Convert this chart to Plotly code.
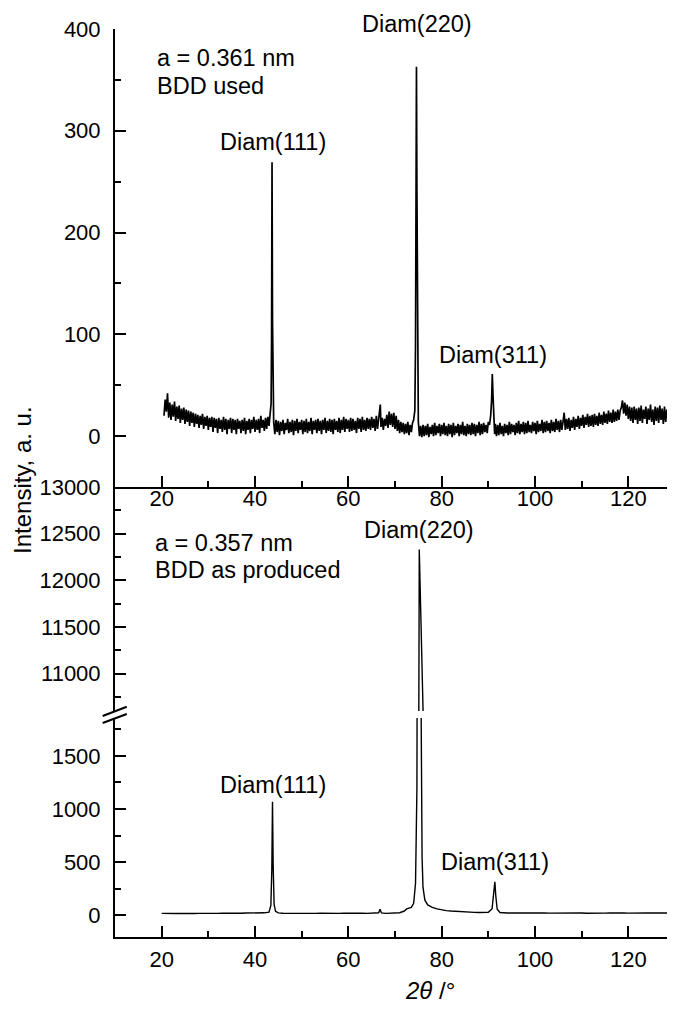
import plotly.graph_objects as go

# XRD pattern of the used BDD electrode (top panel)
USED_2THETA = [
    20.5, 20.75, 21.0, 21.25, 21.5, 21.75, 22.0, 22.25, 22.5, 22.75, 23.0, 23.25, 23.5, 23.75, 24.0, 24.25, 24.5, 24.75, 25.0, 25.25,
    25.5, 25.75, 26.0, 26.25, 26.5, 26.75, 27.0, 27.25, 27.5, 27.75, 28.0, 28.25, 28.5, 28.75, 29.0, 29.25, 29.5, 29.75, 30.0, 30.25,
    30.5, 30.75, 31.0, 31.25, 31.5, 31.75, 32.0, 32.25, 32.5, 32.75, 33.0, 33.25, 33.5, 33.75, 34.0, 34.25, 34.5, 34.75, 35.0, 35.25,
    35.5, 35.75, 36.0, 36.25, 36.5, 36.75, 37.0, 37.25, 37.5, 37.75, 38.0, 38.25, 38.5, 38.75, 39.0, 39.25, 39.5, 39.75, 40.0, 40.25,
    40.5, 40.75, 41.0, 41.25, 41.5, 41.75, 42.0, 42.25, 42.5, 42.75, 43.0, 43.25, 43.45, 43.55, 43.65, 43.75, 43.85, 44.0, 44.25, 44.5,
    44.75, 45.0, 45.25, 45.5, 45.75, 46.0, 46.25, 46.5, 46.75, 47.0, 47.25, 47.5, 47.75, 48.0, 48.25, 48.5, 48.75, 49.0, 49.25, 49.5,
    49.75, 50.0, 50.25, 50.5, 50.75, 51.0, 51.25, 51.5, 51.75, 52.0, 52.25, 52.5, 52.75, 53.0, 53.25, 53.5, 53.75, 54.0, 54.25, 54.5,
    54.75, 55.0, 55.25, 55.5, 55.75, 56.0, 56.25, 56.5, 56.75, 57.0, 57.25, 57.5, 57.75, 58.0, 58.25, 58.5, 58.75, 59.0, 59.25, 59.5,
    59.75, 60.0, 60.25, 60.5, 60.75, 61.0, 61.25, 61.5, 61.75, 62.0, 62.25, 62.5, 62.75, 63.0, 63.25, 63.5, 63.75, 64.0, 64.25, 64.5,
    64.75, 65.0, 65.25, 65.5, 65.75, 66.0, 66.25, 66.5, 66.75, 66.85, 67.0, 67.25, 67.5, 67.75, 68.0, 68.25, 68.5, 68.75, 69.0, 69.25,
    69.5, 69.75, 70.0, 70.25, 70.5, 70.75, 71.0, 71.25, 71.5, 71.75, 72.0, 72.25, 72.5, 72.75, 73.0, 73.25, 73.5, 73.75, 74.0,
    74.25, 74.4, 74.5, 74.6, 74.7, 74.8, 74.9, 75.0, 75.25, 75.5, 75.75,
    76.0, 76.25, 76.5, 76.75, 77.0, 77.25, 77.5, 77.75, 78.0, 78.25, 78.5, 78.75, 79.0, 79.25, 79.5, 79.75, 80.0, 80.25, 80.5, 80.75,
    81.0, 81.25, 81.5, 81.75, 82.0, 82.25, 82.5, 82.75, 83.0, 83.25, 83.5, 83.75, 84.0, 84.25, 84.5, 84.75, 85.0, 85.25, 85.5, 85.75,
    86.0, 86.25, 86.5, 86.75, 87.0, 87.25, 87.5, 87.75, 88.0, 88.25, 88.5, 88.75, 89.0, 89.25, 89.5, 89.75, 90.0, 90.25,
    90.5, 90.7, 90.85, 91.0, 91.15, 91.35, 91.5, 91.75,
    92.0, 92.25, 92.5, 92.75, 93.0, 93.25, 93.5, 93.75, 94.0, 94.25, 94.5, 94.75, 95.0, 95.25, 95.5, 95.75, 96.0, 96.25, 96.5, 96.75,
    97.0, 97.25, 97.5, 97.75, 98.0, 98.25, 98.5, 98.75, 99.0, 99.25, 99.5, 99.75, 100.0, 100.25, 100.5, 100.75, 101.0, 101.25, 101.5, 101.75,
    102.0, 102.25, 102.5, 102.75, 103.0, 103.25, 103.5, 103.75, 104.0, 104.25, 104.5, 104.75, 105.0, 105.25, 105.5, 105.75, 106.0, 106.25, 106.5, 106.75,
    107.0, 107.25, 107.5, 107.75, 108.0, 108.25, 108.5, 108.75, 109.0, 109.25, 109.5, 109.75, 110.0, 110.25, 110.5, 110.75, 111.0, 111.25, 111.5, 111.75,
    112.0, 112.25, 112.5, 112.75, 113.0, 113.25, 113.5, 113.75, 114.0, 114.25, 114.5, 114.75, 115.0, 115.25, 115.5, 115.75, 116.0, 116.25, 116.5, 116.75,
    117.0, 117.25, 117.5, 117.75, 118.0, 118.25, 118.5, 118.75, 119.0, 119.25, 119.5, 119.75, 120.0, 120.25, 120.5, 120.75, 121.0, 121.25, 121.5, 121.75,
    122.0, 122.25, 122.5, 122.75, 123.0, 123.25, 123.5, 123.75, 124.0, 124.25, 124.5, 124.75, 125.0, 125.25, 125.5, 125.75, 126.0, 126.25, 126.5, 126.75,
    127.0, 127.25, 127.5, 127.75, 128.0, 128.25, 128.5, 128.75, 129.0, 129.25, 129.5, 129.75, 130.0,
]
USED_INTENSITY = [
    20, 36, 24, 42, 18, 33, 16, 31, 19, 34, 15, 29, 17, 30, 13, 27, 16, 28, 12, 26,
    14, 25, 10, 24, 13, 23, 9, 22, 12, 21, 8, 20, 11, 22, 7, 19, 10, 20, 6, 18,
    9, 19, 4, 18, 8, 17, 3, 18, 7, 16, 4, 19, 6, 17, 2, 16, 7, 18, 3, 17,
    6, 16, 2, 17, 7, 15, 3, 16, 5, 18, 2, 15, 6, 17, 3, 16, 7, 19, 4, 16,
    6, 17, 3, 20, 8, 16, 5, 18, 7, 19, 10, 22, 32, 95, 269, 115, 30, 14, 2, 16,
    4, 15, 1, 14, 5, 16, 2, 13, 6, 17, 3, 14, 4, 16, 1, 15, 5, 17, 3, 14,
    6, 16, 2, 15, 4, 17, 3, 14, 5, 18, 2, 15, 6, 16, 3, 17, 5, 15, 2, 16,
    6, 18, 3, 15, 5, 17, 4, 16, 2, 17, 6, 15, 4, 18, 3, 16, 6, 19, 4, 17,
    7, 16, 4, 18, 5, 17, 6, 15, 3, 18, 7, 17, 4, 19, 6, 16, 5, 18, 7, 17,
    6, 19, 8, 17, 5, 20, 7, 16, 24, 31, 9, 18, 6, 17, 10, 21, 8, 24, 11, 22,
    9, 23, 7, 20, 5, 16, 3, 14, 4, 13, 2, 12, 3, 14, 1, 11, 4, 13, 16,
    25, 90, 230, 363, 240, 110, 35, 14, 0, 10, -1,
    11, 0, 10, 1, 12, -1, 9, 2, 11, 0, 13, 1, 10, 3, 12, 0, 11, 2, 13, 1,
    10, 0, 12, 2, 11, -1, 13, 1, 10, 3, 12, 0, 11, 2, 14, 1, 10, 0, 12, 2,
    11, 1, 13, 2, 12, 0, 11, 3, 14, 1, 12, 2, 13, 4, 11, 3, 14, 11,
    20, 35, 61, 40, 18, 2, 12, 0,
    11, 1, 13, 2, 10, 0, 12, 3, 11, 1, 14, 2, 12, 4, 11, 1, 13, 3, 15, 2,
    12, 4, 14, 2, 13, 3, 15, 4, 11, 3, 14, 5, 13, 2, 15, 4, 12, 5, 16, 3,
    14, 4, 15, 5, 13, 3, 16, 5, 14, 4, 17, 6, 15, 4, 16, 6, 14, 23, 6, 17,
    7, 18, 5, 16, 8, 19, 6, 17, 9, 20, 7, 18, 10, 21, 8, 19, 11, 22, 9, 20,
    10, 21, 9, 22, 11, 20, 10, 23, 12, 21, 11, 24, 13, 22, 12, 25, 14, 23, 13, 26,
    14, 24, 15, 26, 16, 25, 28, 35, 22, 33, 20, 31, 17, 29, 15, 28, 13, 29, 16, 27,
    12, 28, 15, 30, 13, 26, 17, 29, 12, 27, 16, 31, 14, 26, 11, 29, 15, 28, 13, 30,
    16, 27, 12, 29, 14, 26, 17, 30, 13, 28, 15, 25, 18,
]

# XRD pattern of the as-produced BDD electrode (bottom panel, broken axis)
PRODUCED_2THETA = [
    20, 21, 22, 23, 24, 25, 26, 27, 28, 29, 30, 31, 32, 33, 34, 35, 36, 37, 38, 39, 40, 41, 42, 43,
    43.4, 43.6, 43.75, 43.9, 44.1, 44.4, 45, 46, 47, 48, 49, 50, 51, 52, 53, 54, 55, 56, 57, 58, 59,
    60, 61, 62, 63, 64, 65, 66, 66.5, 66.8, 67.1, 68, 69, 70, 71, 72, 72.5, 73, 73.5, 74, 74.4,
    74.7, 74.8, 74.9, 75.0, 75.1, 75.2, 75.3, 75.4, 75.5, 75.6, 75.8, 76.0, 76.4, 77, 78, 79, 80,
    81, 82, 83, 84, 85, 86, 87, 88, 89, 90, 90.8, 91.1, 91.4, 91.6, 91.9, 92.5, 93, 94, 95, 96, 97,
    98, 99, 100, 101, 102, 103, 104, 105, 106, 107, 108, 109, 110, 111, 112, 113, 114, 115, 116, 117,
    118, 119, 120, 121, 122, 123, 124, 125, 126, 127, 128, 129, 130,
]
PRODUCED_INTENSITY = [
    16, 14, 17, 15, 16, 14, 17, 15, 16, 15, 17, 15, 16, 18, 16, 17, 18, 17, 19, 18, 20, 19, 21, 28,
    90, 420, 1069, 450, 100, 35, 20, 17, 16, 18, 16, 17, 15, 17, 16, 18, 16, 15, 17, 16, 18,
    16, 17, 15, 17, 16, 18, 17, 22, 55, 20, 16, 17, 18, 22, 38, 58, 66, 72, 110, 300,
    1200, 2400, 4200, 7000, 10500, 12330, 9500, 5200, 2600, 1500, 550, 260, 140, 95, 72, 58, 48,
    42, 38, 34, 30, 28, 27, 25, 24, 23, 26, 60, 190, 314, 180, 55, 24, 21, 20, 19, 20, 18,
    19, 20, 18, 19, 20, 18, 19, 17, 19, 18, 20, 18, 19, 17, 19, 18, 20, 18, 19, 21,
    19, 20, 18, 20, 19, 21, 19, 20, 18, 20, 19, 21, 20,
]

X_RANGE = [10, 130]
USED_RANGE = [-50, 400]
LOW_RANGE = [-207, 1858]
HIGH_RANGE = [10600, 13000]

FONT = "Arial, Liberation Sans, sans-serif"
BLACK = "#000000"
TEXT_SIZE = 23.5

fig = go.Figure()
fig.add_scatter(x=USED_2THETA, y=USED_INTENSITY, xaxis="x", yaxis="y", mode="lines",
                line=dict(color=BLACK, width=1.7), showlegend=False)
fig.add_scatter(x=PRODUCED_2THETA, y=PRODUCED_INTENSITY, xaxis="x2", yaxis="y2", mode="lines",
                line=dict(color=BLACK, width=1.4), showlegend=False)
fig.add_scatter(x=PRODUCED_2THETA, y=PRODUCED_INTENSITY, xaxis="x3", yaxis="y3", mode="lines",
                line=dict(color=BLACK, width=1.4), showlegend=False)

axis_common = dict(
    showline=True, linewidth=2, linecolor=BLACK, showgrid=False, zeroline=False,
    ticks="inside", ticklen=11, tickwidth=2, tickcolor=BLACK,
    tickfont=dict(family=FONT, size=22, color=BLACK), tickformat="d",
)
x_common = dict(axis_common, range=X_RANGE, tick0=0, dtick=20,
                minor=dict(ticks="inside", ticklen=6, tickwidth=2, tickcolor=BLACK, dtick=10, showgrid=False))

# the page body adds an 8 px offset, so the figure is drawn 8 px smaller and shifted
top_low = (937 - 487) / 908
high_low = (937 - 711) / 908
low_high = (937 - 718) / 908

fig.update_layout(
    width=667, height=1002, autosize=False,
    margin=dict(l=107, r=0, t=21, b=73),
    paper_bgcolor="white", plot_bgcolor="white",
    font=dict(family=FONT, size=22, color=BLACK),
    xaxis=dict(x_common, domain=[0, 1], anchor="y", ticklabelstandoff=-9),
    yaxis=dict(axis_common, domain=[top_low, 1], range=USED_RANGE, tick0=0, dtick=100,
               ticklabelstandoff=8,
               minor=dict(ticks="inside", ticklen=6, tickwidth=2, tickcolor=BLACK, dtick=50, showgrid=False)),
    xaxis2=dict(x_common, domain=[0, 1], anchor="y2", ticklabelstandoff=2),
    yaxis2=dict(axis_common, domain=[0, low_high], range=LOW_RANGE, tick0=0, dtick=500,
                ticklabelstandoff=8,
                minor=dict(ticks="inside", ticklen=6, tickwidth=2, tickcolor=BLACK, dtick=250, showgrid=False)),
    xaxis3=dict(domain=[0, 1], anchor="y3", range=X_RANGE, matches="x2", visible=False),
    yaxis3=dict(axis_common, domain=[high_low, top_low], range=HIGH_RANGE, tick0=0, dtick=500,
                ticklabelstandoff=8,
                minor=dict(ticks="inside", ticklen=6, tickwidth=2, tickcolor=BLACK, dtick=250, showgrid=False)),
)

# axis break marks
for y0, y1 in [((937 - 716) / 908, (937 - 706.7) / 908), ((937 - 723) / 908, (937 - 714) / 908)]:
    fig.add_shape(type="line", xref="paper", yref="paper", x0=-0.022, x1=0.021, y0=y0, y1=y1,
                  line=dict(color=BLACK, width=2))


def label(text, x, y, xref, yref, xanchor="center", size=TEXT_SIZE, angle=0):
    fig.add_annotation(text=text, x=x, y=y, xref=xref, yref=yref, xanchor=xanchor, yanchor="middle",
                       textangle=angle, showarrow=False, font=dict(family=FONT, size=size, color=BLACK))


label("a = 0.361 nm", 18.5, 372, "x", "y", "left")
label("BDD used", 18.5, 344, "x", "y", "left")
label("Diam(111)", 43.9, 289, "x", "y")
label("Diam(220)", 74.8, (937 - 24) / 908, "x", "paper")
label("Diam(311)", 90.9, 80, "x", "y")

label("a = 0.357 nm", 18.1, 12400, "x3", "y3", "left")
label("BDD as produced", 18.1, 12110, "x3", "y3", "left")
label("Diam(220)", 75.1, 12540, "x3", "y3")
label("Diam(111)", 43.9, 1226, "x2", "y2")
label("Diam(311)", 91.4, 500, "x2", "y2")

label("Intensity, a. u.", (22 - 115) / 560, (937 - 480) / 908, "paper", "paper", size=24, angle=-90)
label("<i>2θ</i> /°", 77.6, (937 - 991) / 908, "x2", "paper", size=24)

fig.write_html("out.html")
